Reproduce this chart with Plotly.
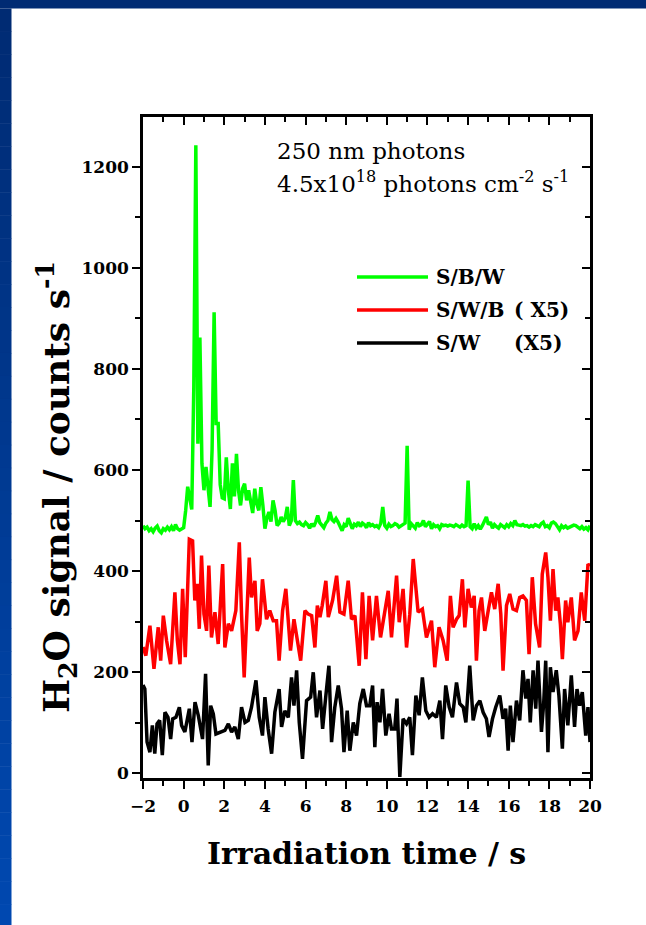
import plotly.graph_objects as go

# ---- data -------------------------------------------------------------
# S/B/W water signal, counts/s, sampled every 0.1 s from -2 s to 20 s
sbw = [
    490, 484, 487, 480, 484, 478, 485, 489, 480, 476,
    484, 481, 487, 482, 488, 480, 492, 484, 481, 484,
    486, 520, 567, 545, 522, 764, 1242, 652, 862, 613,
    560, 606, 560, 527, 640, 912, 692, 692, 571, 545,
    543, 625, 560, 523, 613, 548, 632, 560, 530, 563,
    573, 540, 560, 533, 515, 563, 533, 520, 566, 530,
    484, 505, 517, 498, 540, 520, 490, 495, 507, 498,
    505, 527, 490, 500, 580, 500, 494, 497, 492, 490,
    496, 492, 485, 494, 488, 497, 510, 496, 490, 486,
    495, 500, 517, 502, 498, 504, 497, 488, 480, 492,
    488, 505, 494, 484, 493, 490, 497, 488, 495, 492,
    486, 496, 490, 492, 488, 490, 486, 494, 527, 490,
    485, 493, 488, 490, 494, 492, 487, 490, 492, 495,
    648, 482, 494, 490, 485, 496, 490, 492, 500, 488,
    492, 498, 484, 492, 488, 490, 484, 492, 490, 491,
    489, 491, 490, 488, 492, 489, 487, 491, 488, 490,
    579, 488, 484, 494, 485, 490, 483, 490, 500, 507,
    492, 497, 485, 492, 488, 485, 492, 488, 486, 492,
    488, 494, 490, 500, 492, 491, 490, 492, 489, 490,
    487, 490, 488, 492, 490, 488, 494, 497, 488, 490,
    486, 495, 497, 494, 488, 482, 490, 486, 489, 485,
    487, 489, 491, 490, 487, 484, 488, 483, 486, 482,
    490,
]
t_sbw = [round(-2 + 0.1 * i, 1) for i in range(len(sbw))]

# S/W/B water signal (x5)
t_swb = [
    -2.0, -1.86, -1.66, -1.46, -1.25, -1.13, -1.0, -0.84, -0.64, -0.43,
    -0.31, -0.18, -0.05, 0.08, 0.28, 0.44, 0.55, 0.67, 0.77, 0.88,
    1.0, 1.13, 1.24, 1.37, 1.54, 1.7, 1.92, 2.03, 2.2, 2.36,
    2.57, 2.74, 2.85, 2.98, 3.23, 3.34, 3.51, 3.62, 3.75, 3.88,
    4.08, 4.24, 4.41, 4.57, 4.7, 4.87, 5.03, 5.15, 5.26, 5.43,
    5.59, 5.76, 5.97, 6.13, 6.3, 6.46, 6.58, 6.71, 6.82, 7.0,
    7.12, 7.33, 7.53, 7.69, 7.89, 8.1, 8.26, 8.43, 8.64, 8.8,
    8.97, 9.13, 9.3, 9.49, 9.69, 9.9, 10.07, 10.23, 10.48, 10.61,
    10.8, 10.97, 11.13, 11.3, 11.54, 11.75, 11.95, 12.2, 12.36, 12.57,
    12.77, 12.97, 13.13, 13.26, 13.43, 13.56, 13.72, 13.84, 14.0, 14.16,
    14.3, 14.41, 14.54, 14.66, 14.82, 14.99, 15.15, 15.31, 15.48, 15.61,
    15.72, 15.89, 16.05, 16.21, 16.38, 16.54, 16.7, 16.87, 17.0, 17.16,
    17.32, 17.52, 17.65, 17.82, 17.93, 18.05, 18.18, 18.31, 18.42, 18.54,
    18.64, 18.8, 18.91, 19.08, 19.24, 19.41, 19.57, 19.74, 19.9, 20.0,
]
swb = [
    250, 233, 292, 207, 289, 223, 312, 263, 216, 358,
    263, 216, 365, 230, 463, 460, 342, 375, 286, 431,
    315, 282, 411, 269, 319, 256, 414, 249, 296, 282,
    322, 457, 315, 190, 427, 348, 381, 282, 296, 384,
    305, 322, 302, 302, 223, 322, 365, 289, 243, 305,
    269, 223, 322, 315, 312, 249, 332, 309, 332, 381,
    309, 342, 391, 319, 315, 381, 305, 312, 213, 358,
    226, 351, 263, 351, 269, 315, 361, 269, 391, 299,
    365, 249, 315, 424, 319, 325, 269, 302, 210, 289,
    263, 223, 351, 289, 305, 312, 384, 289, 365, 328,
    351, 223, 322, 348, 282, 322, 358, 325, 375, 315,
    203, 332, 355, 325, 322, 348, 351, 342, 236, 388,
    296, 249, 394, 437, 388, 302, 404, 322, 348, 296,
    226, 342, 299, 348, 263, 282, 358, 302, 414, 410,
]

# S/W water signal (x5)
t_sw = [
    -2.0, -1.91, -1.8, -1.66, -1.54, -1.42, -1.31, -1.18, -1.05, -0.92,
    -0.77, -0.64, -0.54, -0.38, -0.21, -0.1, 0.06, 0.28, 0.41, 0.56,
    0.72, 0.93, 1.08, 1.21, 1.33, 1.46, 1.59, 1.79, 2.03, 2.2,
    2.36, 2.52, 2.69, 2.85, 3.02, 3.18, 3.34, 3.56, 3.72, 3.88,
    4.0, 4.16, 4.33, 4.49, 4.7, 4.82, 4.98, 5.15, 5.31, 5.43,
    5.56, 5.69, 5.85, 6.05, 6.25, 6.38, 6.54, 6.71, 6.84, 7.0,
    7.15, 7.28, 7.44, 7.61, 7.77, 7.89, 8.05, 8.18, 8.35, 8.51,
    8.67, 8.84, 9.0, 9.16, 9.3, 9.41, 9.52, 9.66, 9.79, 9.95,
    10.11, 10.23, 10.39, 10.5, 10.64, 10.8, 10.97, 11.13, 11.26, 11.43,
    11.59, 11.75, 11.92, 12.08, 12.25, 12.44, 12.61, 12.74, 12.9, 13.07,
    13.23, 13.43, 13.59, 13.76, 13.89, 14.08, 14.25, 14.41, 14.58, 14.74,
    14.9, 15.03, 15.2, 15.36, 15.56, 15.72, 15.85, 15.97, 16.08, 16.21,
    16.38, 16.54, 16.7, 16.84, 16.95, 17.06, 17.2, 17.33, 17.44, 17.61,
    17.72, 17.82, 17.93, 18.05, 18.18, 18.34, 18.47, 18.64, 18.75, 18.91,
    19.08, 19.24, 19.36, 19.49, 19.62, 19.79, 19.9, 20.0,
]
sw = [
    175, 167, 62, 42, 95, 39, 98, 105, 36, 121,
    111, 68, 108, 111, 131, 95, 82, 128, 62, 141,
    115, 68, 197, 16, 134, 118, 78, 82, 85, 98,
    82, 92, 68, 131, 101, 105, 131, 184, 111, 75,
    151, 88, 39, 121, 167, 92, 124, 111, 190, 134,
    204, 101, 29, 144, 151, 200, 111, 164, 88, 154,
    213, 62, 131, 174, 128, 42, 124, 45, 101, 75,
    138, 167, 134, 134, 174, 52, 141, 101, 167, 75,
    118, 88, 88, 148, -7, 108, 98, 111, 36, 154,
    115, 190, 124, 111, 118, 111, 144, 68, 174, 131,
    111, 180, 138, 131, 101, 213, 105, 134, 144, 121,
    108, 72, 108, 131, 154, 108, 128, 45, 134, 62,
    144, 105, 204, 148, 187, 101, 204, 128, 223, 82,
    138, 223, 42, 210, 161, 204, 154, 49, 167, 95,
    194, 92, 167, 134, 161, 75, 131, 62,
]

series_names = ["S/B/W", "S/W/B", "S/W"]
series_scale = ["", "( X5)", "(X5)"]
series_colors = ["#00ff00", "#ff0000", "#000000"]

x_ticks = list(range(-2, 21, 2))
y_ticks = list(range(0, 1201, 200))

# ---- geometry helpers (pixel -> paper) -------------------------------
W, H = 646, 925
ML, MR, MT, MB = 143, 56, 117, 147
PW, PH = W - ML - MR, H - MT - MB


def px_x(x):
    return (x - ML) / PW


def px_y(y):
    return (H - MB - y) / PH


SERIF = "DejaVu Serif"

fig = go.Figure()
for tx, vy, name, col in zip([t_sbw, t_swb, t_sw], [sbw, swb, sw],
                             series_names, series_colors):
    fig.add_trace(go.Scatter(x=tx, y=vy, mode="lines", name=name,
                             line=dict(color=col, width=3.5),
                             showlegend=False))

# helper trace so the mirrored top/right axes get drawn
fig.add_trace(go.Scatter(x=[-2], y=[0], xaxis="x2", yaxis="y2",
                         mode="markers", marker=dict(opacity=0),
                         hoverinfo="skip", showlegend=False))

tickfont = dict(family=SERIF, size=17, color="black", weight="bold")
common = dict(showgrid=False, zeroline=False, showline=True,
              linecolor="black", linewidth=2.5, tickcolor="black",
              tickwidth=2, ticklen=8)

fig.update_layout(
    width=W, height=H,
    margin=dict(l=ML, r=MR, t=MT, b=MB, pad=0),
    paper_bgcolor="white", plot_bgcolor="white",
    xaxis=dict(range=[-2, 20], tickvals=x_ticks, ticks="outside",
               tickfont=tickfont, ticklabelstandoff=3,
               minor=dict(dtick=1, tick0=0, ticks="outside", ticklen=5,
                          tickwidth=2, tickcolor="black"),
               **common),
    yaxis=dict(range=[-9, 1298], tickvals=y_ticks, ticks="outside",
               tickfont=tickfont,
               minor=dict(dtick=100, tick0=0, ticks="outside", ticklen=5,
                          tickwidth=2, tickcolor="black"),
               **common),
    xaxis2=dict(range=[-2, 20], overlaying="x", side="top", anchor="y2",
                tickvals=x_ticks, ticks="inside", showticklabels=False,
                minor=dict(dtick=1, tick0=0, ticks="inside", ticklen=5,
                           tickwidth=2, tickcolor="black"),
                **common),
    yaxis2=dict(range=[-9, 1298], overlaying="y", side="right", anchor="x2",
                tickvals=y_ticks, ticks="inside", showticklabels=False,
                minor=dict(dtick=100, tick0=0, ticks="inside", ticklen=5,
                           tickwidth=2, tickcolor="black"),
                **common),
)

# blue frame around the page
shapes = [dict(type="rect", xref="paper", yref="paper",
               x0=px_x(0), x1=px_x(W + 2), y0=px_y(8.5), y1=px_y(-2),
               fillcolor="#002b73", line=dict(width=0), layer="above")]
n_steps = 40
top, bot = 8.5, H + 2
for i in range(n_steps):
    f = i / (n_steps - 1)
    r, g, b = 0, round(43 + (72 - 43) * f), round(115 + (176 - 115) * f)
    y0 = top + (bot - top) * i / n_steps
    y1 = top + (bot - top) * (i + 1) / n_steps
    shapes.append(dict(type="rect", xref="paper", yref="paper",
                       x0=px_x(-2), x1=px_x(11.5), y0=px_y(y1 + 0.5),
                       y1=px_y(y0), fillcolor=f"rgb({r},{g},{b})",
                       line=dict(width=0), layer="above"))

# legend sample lines
legend_y = [277, 310, 343]
for ly, col in zip(legend_y, series_colors):
    shapes.append(dict(type="line", xref="paper", yref="paper",
                       x0=px_x(357), x1=px_x(428), y0=px_y(ly), y1=px_y(ly),
                       line=dict(color=col, width=3.5)))
fig.update_layout(shapes=shapes)

annotations = []
legfont = dict(family=SERIF, size=20, color="black", weight="bold")
for ly, name, sc in zip(legend_y, series_names, series_scale):
    annotations.append(dict(xref="paper", yref="paper", x=px_x(434),
                            y=px_y(ly), xanchor="left", yanchor="middle",
                            text=name, showarrow=False, font=legfont))
    if sc:
        annotations.append(dict(xref="paper", yref="paper", x=px_x(512),
                                y=px_y(ly), xanchor="left", yanchor="middle",
                                text=sc, showarrow=False, font=legfont))

textfont = dict(family=SERIF, size=23, color="black")
annotations += [
    dict(xref="paper", yref="paper", x=px_x(275), y=px_y(151),
         xanchor="left", yanchor="middle", text="250 nm photons",
         showarrow=False, font=textfont),
    dict(xref="paper", yref="paper", x=px_x(275), y=px_y(182),
         xanchor="left", yanchor="middle",
         text="4.5x10<sup>18</sup> photons cm<sup>-2</sup> s<sup>-1</sup>",
         showarrow=False, font=textfont),
    dict(xref="paper", yref="paper", x=px_x(366), y=px_y(853),
         xanchor="center", yanchor="middle", text="Irradiation time / s",
         showarrow=False,
         font=dict(family=SERIF, size=30, color="black", weight="bold")),
    dict(xref="paper", yref="paper", x=px_x(57), y=px_y(487),
         xanchor="center", yanchor="middle", textangle=-90,
         text="H<sub>2</sub>O signal / counts s<sup>-1</sup>",
         showarrow=False,
         font=dict(family=SERIF, size=36, color="black", weight="bold")),
]
fig.update_layout(annotations=annotations)

fig.write_html("out.html")
